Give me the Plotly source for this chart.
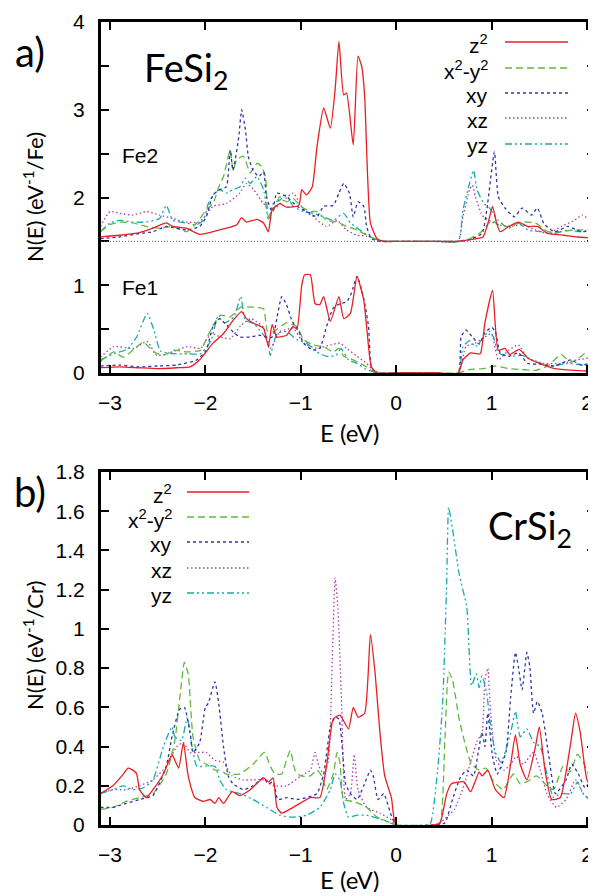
import plotly.graph_objects as go

# ---------------- DATA ----------------
ORBITALS = ["z<sup>2</sup>", "x<sup>2</sup>-y<sup>2</sup>", "xy", "xz", "yz"]
X_TICKS = [-3, -2, -1, 0, 1, 2]
Y_TICKS_A = [0, 0.5, 1, 1.5, 2, 2.5, 3, 3.5, 4]
Y_TICKTEXT_A = ["0", " ", "1", " ", "2", " ", "3", " ", "4"]
Y_TICKS_B = [0, 0.2, 0.4, 0.6, 0.8, 1.0, 1.2, 1.4, 1.6, 1.8]
Y_TICKTEXT_B = ["0", "0.2", "0.4", "0.6", "0.8", "1", "1.2", "1.4", "1.6", "1.8"]
FE2_OFFSET = 1.5

# FeSi2, Fe1 site
E_FE1_Z2 = [-3.1,-2.9,-2.7,-2.5,-2.3,-2.16,-2.06,-1.92,-1.81,-1.71,-1.62,-1.57,-1.5,-1.39,-1.34,-1.3,-1.25,-1.15,-1.08,-1.04,-0.99,-0.96,-0.9,-0.85,-0.8,-0.76,-0.69,-0.6,-0.55,-0.48,-0.41,-0.34,-0.31,-0.26,-0.2,0.0,0.4,0.65,0.70,0.78,0.88,0.93,1.01,1.07,1.14,1.19,1.29,1.38,1.52,1.66,1.87,2.08]
N_FE1_Z2 = [0.06,0.07,0.06,0.05,0.06,0.07,0.15,0.34,0.45,0.6,0.7,0.62,0.57,0.51,0.3,0.55,0.41,0.43,0.53,0.5,1.0,1.12,1.12,0.79,0.78,0.87,0.59,0.87,0.62,0.68,1.1,0.83,0.53,0.07,0,0,0,0,0.15,0.23,0.22,0.57,0.94,0.26,0.28,0.21,0.27,0.17,0.1,0.05,0.03,0.02]
E_FE1_X2Y2 = [-3.1,-2.96,-2.86,-2.75,-2.65,-2.54,-2.44,-2.33,-2.19,-2.05,-1.98,-1.91,-1.84,-1.74,-1.63,-1.49,-1.39,-1.35,-1.29,-1.15,-1.04,-0.97,-0.87,-0.76,-0.66,-0.6,-0.55,-0.45,-0.34,-0.24,-0.15,0.0,0.4,0.65,0.77,0.91,1.04,1.18,1.32,1.46,1.59,1.73,1.83,1.94,2.0,2.08]
N_FE1_X2Y2 = [0.13,0.24,0.18,0.27,0.35,0.24,0.2,0.26,0.24,0.26,0.41,0.56,0.66,0.64,0.75,0.75,0.73,0.48,0.47,0.57,0.53,0.38,0.32,0.3,0.24,0.28,0.19,0.15,0.09,0.02,0,0,0,0,0.04,0.05,0.08,0.05,0.04,0.03,0.08,0.21,0.12,0.19,0.24,0.13]
E_FE1_XY = [-3.1,-2.9,-2.7,-2.5,-2.3,-2.09,-1.99,-1.92,-1.85,-1.78,-1.71,-1.64,-1.53,-1.43,-1.32,-1.29,-1.2,-1.15,-1.09,-1.02,-0.97,-0.87,-0.8,-0.73,-0.66,-0.59,-0.52,-0.47,-0.41,-0.34,-0.29,-0.26,-0.2,0.0,0.4,0.65,0.68,0.73,0.8,0.87,0.93,1.0,1.04,1.09,1.18,1.28,1.38,1.52,1.66,1.83,1.94,2.08]
N_FE1_XY = [0.08,0.09,0.07,0.08,0.09,0.15,0.26,0.53,0.62,0.55,0.47,0.41,0.41,0.43,0.4,0.42,0.87,0.78,0.59,0.47,0.34,0.26,0.28,0.53,0.74,0.79,0.81,0.91,1.1,0.85,0.53,0.07,0,0,0,0,0.41,0.49,0.41,0.33,0.46,0.52,0.47,0.23,0.19,0.23,0.11,0.1,0.08,0.15,0.09,0.13]
E_FE1_XZ = [-3.1,-2.96,-2.75,-2.61,-2.51,-2.4,-2.19,-2.05,-1.94,-1.84,-1.74,-1.63,-1.52,-1.39,-1.32,-1.22,-1.08,-0.97,-0.83,-0.69,-0.59,-0.52,-0.41,-0.31,-0.24,-0.15,0.0,0.4,0.65,0.73,0.83,0.93,1.0,1.07,1.18,1.28,1.38,1.55,1.73,1.9,2.08]
N_FE1_XZ = [0.18,0.3,0.28,0.36,0.2,0.22,0.3,0.28,0.45,0.41,0.39,0.54,0.62,0.52,0.28,0.47,0.51,0.34,0.28,0.32,0.34,0.28,0.19,0.11,0.03,0,0,0,0,0.3,0.34,0.41,0.45,0.15,0.26,0.32,0.17,0.11,0.11,0.15,0.18]
E_FE1_YZ = [-3.1,-2.96,-2.82,-2.72,-2.61,-2.54,-2.47,-2.33,-2.19,-2.05,-1.94,-1.87,-1.8,-1.7,-1.63,-1.58,-1.49,-1.35,-1.32,-1.25,-1.15,-1.04,-0.94,-0.83,-0.73,-0.63,-0.58,-0.5,-0.41,-0.31,-0.2,0.0,0.4,0.65,0.7,0.77,0.83,0.92,0.97,1.02,1.07,1.18,1.32,1.46,1.63,1.8,1.97,2.08]
N_FE1_YZ = [0.15,0.22,0.27,0.41,0.68,0.49,0.25,0.22,0.22,0.22,0.37,0.64,0.57,0.64,0.87,0.6,0.56,0.37,0.2,0.45,0.47,0.38,0.34,0.24,0.19,0.2,0.28,0.15,0.11,0.04,0,0,0,0,0.3,0.37,0.3,0.41,0.48,0.41,0.23,0.19,0.2,0.13,0.08,0.11,0.09,0.11]

# FeSi2, Fe2 site (plotted shifted up by FE2_OFFSET)
E_FE2_Z2 = [-3.1,-2.9,-2.69,-2.55,-2.41,-2.34,-2.2,-2.06,-1.92,-1.78,-1.67,-1.62,-1.57,-1.46,-1.39,-1.34,-1.3,-1.22,-1.15,-1.02,-0.99,-0.94,-0.88,-0.83,-0.76,-0.69,-0.64,-0.6,-0.55,-0.52,-0.45,-0.4,-0.36,-0.33,-0.27,-0.2,-0.13,0.0,0.4,0.65,0.77,0.91,0.97,1.01,1.05,1.09,1.18,1.28,1.38,1.48,1.59,1.76,1.9,2.08]
N_FE2_Z2 = [0.05,0.07,0.1,0.15,0.21,0.17,0.15,0.08,0.11,0.15,0.19,0.27,0.22,0.25,0.21,0.11,0.36,0.43,0.39,0.41,0.59,0.53,0.62,1.08,1.52,1.29,1.73,2.28,1.67,1.69,1.1,2.11,1.99,1.65,0.21,0.03,0,0,0,0,0.02,0.05,0.24,0.4,0.22,0.11,0.17,0.22,0.17,0.17,0.09,0.07,0.05,0.04]
E_FE2_X2Y2 = [-3.1,-3.0,-2.9,-2.76,-2.62,-2.48,-2.34,-2.2,-2.09,-1.99,-1.92,-1.86,-1.81,-1.74,-1.71,-1.67,-1.6,-1.53,-1.46,-1.41,-1.37,-1.34,-1.3,-1.22,-1.15,-1.08,-1.0,-0.9,-0.83,-0.73,-0.62,-0.52,-0.41,-0.31,-0.2,-0.1,0.0,0.4,0.65,0.77,0.87,0.93,1.0,1.07,1.18,1.32,1.46,1.59,1.73,1.87,2.08]
N_FE2_X2Y2 = [0.11,0.19,0.22,0.21,0.17,0.15,0.17,0.11,0.21,0.36,0.43,0.62,0.74,1.04,0.81,0.93,0.97,0.78,0.89,0.85,0.74,0.28,0.32,0.51,0.45,0.49,0.4,0.34,0.34,0.24,0.22,0.17,0.13,0.07,0.02,0,0,0,0,0.03,0.09,0.15,0.24,0.19,0.17,0.22,0.21,0.11,0.11,0.13,0.13]
E_FE2_XY = [-3.1,-2.9,-2.69,-2.55,-2.41,-2.2,-2.06,-1.99,-1.92,-1.85,-1.78,-1.74,-1.71,-1.65,-1.62,-1.58,-1.55,-1.5,-1.44,-1.39,-1.36,-1.3,-1.25,-1.15,-1.04,-0.94,-0.83,-0.76,-0.66,-0.6,-0.55,-0.49,-0.45,-0.4,-0.34,-0.31,-0.26,-0.17,0.0,0.4,0.65,0.77,0.9,0.95,1.03,1.07,1.14,1.24,1.32,1.42,1.48,1.55,1.66,1.8,1.94,2.08]
N_FE2_XY = [0.03,0.05,0.09,0.11,0.17,0.13,0.17,0.28,0.53,0.59,0.62,1.04,0.81,1.19,1.5,1.27,0.97,0.81,0.74,0.79,0.51,0.34,0.55,0.51,0.4,0.34,0.28,0.4,0.41,0.55,0.66,0.55,0.28,0.45,0.4,0.17,0.03,0,0,0,0,0.02,0.09,0.36,1.02,0.51,0.38,0.28,0.38,0.3,0.38,0.2,0.11,0.17,0.11,0.13]
E_FE2_XZ = [-3.1,-3.0,-2.9,-2.76,-2.62,-2.48,-2.34,-2.2,-2.06,-1.92,-1.78,-1.64,-1.57,-1.5,-1.39,-1.29,-1.18,-1.08,-0.97,-0.87,-0.73,-0.62,-0.52,-0.41,-0.31,-0.2,-0.1,0.0,0.4,0.65,0.7,0.77,0.8,0.83,0.9,0.97,1.07,1.18,1.32,1.46,1.59,1.73,1.87,1.95,2.08]
N_FE2_XZ = [0.17,0.34,0.32,0.3,0.34,0.3,0.26,0.22,0.22,0.4,0.43,0.55,0.66,0.6,0.43,0.36,0.47,0.55,0.36,0.28,0.17,0.24,0.13,0.07,0.06,0.02,0,0,0,0,0.28,0.59,0.64,0.51,0.3,0.24,0.19,0.17,0.19,0.13,0.09,0.17,0.24,0.3,0.2]
E_FE2_YZ = [-3.1,-3.0,-2.9,-2.76,-2.62,-2.48,-2.41,-2.34,-2.2,-2.09,-2.02,-1.97,-1.92,-1.85,-1.78,-1.71,-1.64,-1.58,-1.53,-1.46,-1.39,-1.34,-1.29,-1.22,-1.15,-1.08,-0.97,-0.87,-0.76,-0.66,-0.55,-0.48,-0.38,-0.27,-0.17,-0.1,0.0,0.4,0.65,0.7,0.75,0.81,0.85,0.92,0.97,1.07,1.18,1.28,1.38,1.52,1.66,1.8,1.94,2.08]
N_FE2_YZ = [0.11,0.21,0.24,0.22,0.22,0.26,0.41,0.24,0.21,0.19,0.24,0.43,0.53,0.59,0.55,0.59,0.62,0.72,0.66,0.74,0.59,0.24,0.43,0.47,0.53,0.4,0.34,0.32,0.28,0.24,0.32,0.21,0.13,0.05,0.01,0,0,0,0,0.36,0.58,0.81,0.58,0.43,0.39,0.24,0.15,0.21,0.13,0.11,0.09,0.13,0.11,0.15]

# CrSi2
E_CR_Z2 = [-3.1,-2.97,-2.86,-2.81,-2.76,-2.72,-2.69,-2.62,-2.55,-2.44,-2.35,-2.32,-2.28,-2.23,-2.18,-2.11,-2.02,-1.95,-1.9,-1.86,-1.81,-1.72,-1.64,-1.53,-1.39,-1.34,-1.29,-1.25,-1.2,-1.08,-0.9,-0.8,-0.73,-0.66,-0.59,-0.5,-0.45,-0.4,-0.33,-0.27,-0.22,-0.17,-0.12,-0.05,0.0,0.4,0.46,0.53,0.58,0.71,0.78,0.87,0.9,0.96,1.04,1.13,1.2,1.25,1.3,1.37,1.46,1.5,1.56,1.63,1.72,1.83,1.88,1.93,2.0,2.08]
N_CR_Z2 = [0.16,0.2,0.26,0.29,0.28,0.26,0.18,0.14,0.18,0.26,0.36,0.33,0.29,0.42,0.25,0.14,0.12,0.13,0.11,0.14,0.11,0.17,0.15,0.18,0.24,0.22,0.24,0.09,0.06,0.09,0.14,0.14,0.3,0.54,0.56,0.49,0.6,0.55,0.57,0.97,0.77,0.47,0.25,0.14,0.0,0,0.01,0.16,0.21,0.22,0.17,0.27,0.25,0.28,0.18,0.14,0.31,0.46,0.31,0.23,0.4,0.5,0.28,0.13,0.14,0.42,0.57,0.47,0.23,0.17]
E_CR_X2Y2 = [-3.1,-2.97,-2.83,-2.69,-2.55,-2.41,-2.32,-2.27,-2.22,-2.18,-2.13,-2.06,-1.99,-1.9,-1.85,-1.78,-1.64,-1.5,-1.38,-1.32,-1.27,-1.2,-1.15,-1.11,-1.06,-1.0,-0.9,-0.83,-0.78,-0.73,-0.66,-0.62,-0.59,-0.55,-0.45,-0.31,-0.2,-0.1,0.0,0.4,0.46,0.51,0.55,0.59,0.66,0.73,0.79,0.87,0.94,1.01,1.12,1.23,1.3,1.37,1.47,1.58,1.65,1.75,1.82,1.9,1.96,2.03,2.08]
N_CR_X2Y2 = [0.08,0.09,0.12,0.14,0.16,0.26,0.43,0.64,0.83,0.77,0.45,0.33,0.31,0.28,0.28,0.26,0.26,0.31,0.37,0.3,0.26,0.26,0.33,0.38,0.28,0.25,0.25,0.28,0.25,0.18,0.26,0.37,0.32,0.13,0.12,0.09,0.04,0.02,0.0,0,0.01,0.43,0.78,0.74,0.54,0.4,0.31,0.28,0.29,0.23,0.18,0.26,0.21,0.22,0.25,0.2,0.18,0.3,0.27,0.36,0.32,0.25,0.28]
E_CR_XY = [-3.1,-2.97,-2.83,-2.69,-2.55,-2.41,-2.35,-2.27,-2.22,-2.16,-2.13,-2.06,-2.0,-1.97,-1.9,-1.86,-1.81,-1.76,-1.71,-1.6,-1.5,-1.39,-1.34,-1.29,-1.24,-1.15,-1.04,-0.94,-0.83,-0.76,-0.69,-0.64,-0.6,-0.53,-0.48,-0.41,-0.34,-0.27,-0.24,-0.19,-0.13,-0.06,0.0,0.4,0.51,0.59,0.67,0.74,0.81,0.86,0.9,0.93,0.96,1.01,1.06,1.15,1.2,1.25,1.28,1.32,1.37,1.4,1.44,1.48,1.53,1.6,1.67,1.78,1.84,1.91,1.98,2.08]
N_CR_XY = [0.09,0.09,0.11,0.13,0.15,0.3,0.45,0.59,0.6,0.47,0.37,0.42,0.6,0.62,0.73,0.62,0.4,0.25,0.21,0.18,0.2,0.24,0.21,0.22,0.13,0.14,0.13,0.14,0.16,0.26,0.5,0.55,0.54,0.21,0.16,0.13,0.2,0.28,0.25,0.13,0.16,0.06,0.0,0,0.01,0.13,0.24,0.28,0.25,0.37,0.47,0.4,0.57,0.35,0.26,0.37,0.65,0.88,0.81,0.69,0.88,0.81,0.57,0.63,0.57,0.35,0.16,0.23,0.31,0.26,0.19,0.26]
E_CR_XZ = [-3.1,-2.97,-2.83,-2.69,-2.55,-2.41,-2.3,-2.23,-2.16,-2.06,-1.99,-1.9,-1.81,-1.72,-1.6,-1.5,-1.39,-1.29,-1.15,-1.0,-0.9,-0.85,-0.81,-0.76,-0.71,-0.67,-0.64,-0.61,-0.57,-0.53,-0.48,-0.44,-0.4,-0.31,-0.17,-0.06,0.0,0.4,0.45,0.53,0.61,0.71,0.78,0.85,0.9,0.93,0.96,0.99,1.05,1.13,1.2,1.26,1.33,1.44,1.51,1.58,1.68,1.78,1.88,1.96,2.03,2.08]
N_CR_XZ = [0.16,0.18,0.18,0.2,0.23,0.3,0.4,0.42,0.37,0.37,0.37,0.33,0.32,0.25,0.23,0.23,0.23,0.2,0.2,0.25,0.28,0.37,0.3,0.26,0.33,0.84,1.26,1.1,0.59,0.13,0.16,0.36,0.18,0.09,0.06,0.03,0.0,0,0.01,0.04,0.08,0.2,0.32,0.43,0.47,0.74,0.8,0.57,0.33,0.28,0.31,0.35,0.31,0.37,0.28,0.16,0.09,0.13,0.23,0.16,0.13,0.1]
E_CR_YZ = [-3.1,-2.97,-2.86,-2.76,-2.65,-2.55,-2.44,-2.35,-2.32,-2.25,-2.19,-2.14,-2.09,-2.0,-1.9,-1.85,-1.78,-1.64,-1.5,-1.36,-1.22,-1.08,-0.94,-0.8,-0.69,-0.64,-0.59,-0.55,-0.5,-0.41,-0.31,-0.17,-0.06,0.0,0.3,0.36,0.44,0.49,0.53,0.55,0.59,0.66,0.74,0.79,0.84,0.87,0.9,0.95,0.98,1.04,1.1,1.2,1.25,1.3,1.37,1.44,1.51,1.58,1.65,1.72,1.83,1.9,1.96,2.03,2.08]
N_CR_YZ = [0.16,0.18,0.2,0.18,0.19,0.23,0.4,0.5,0.45,0.43,0.55,0.4,0.3,0.3,0.3,0.23,0.18,0.16,0.13,0.09,0.05,0.04,0.05,0.09,0.18,0.26,0.23,0.11,0.04,0.05,0.05,0.03,0.01,0.0,0,0.01,0.31,0.65,1.25,1.62,1.51,1.28,1.11,0.71,0.77,0.7,0.76,0.67,0.54,0.37,0.32,0.47,0.58,0.45,0.49,0.42,0.4,0.26,0.14,0.16,0.16,0.22,0.16,0.13,0.15]

# ---------------- STYLE ----------------
COLORS = ["rgb(235,30,35)", "rgb(95,185,60)", "rgb(45,55,165)", "rgb(175,60,175)", "rgb(25,170,175)"]
DASHES = ["solid", "7px,4px", "3px,3px", "1.5px,2.5px", "7px,3px,2px,3px,2px,3px"]
LW = 1.3
PAGE_MARGIN = 8          # default <body> margin of the written page
W, H = 596 - PAGE_MARGIN, 896 - PAGE_MARGIN
TXT = "Liberation Sans"
CAL = "Lato"


def px(x):
    # window pixel -> paper fraction
    return (x - PAGE_MARGIN) / W


def py(y):
    return 1 - (y - PAGE_MARGIN) / H


fe1 = [(E_FE1_Z2, N_FE1_Z2), (E_FE1_X2Y2, N_FE1_X2Y2), (E_FE1_XY, N_FE1_XY), (E_FE1_XZ, N_FE1_XZ), (E_FE1_YZ, N_FE1_YZ)]
fe2 = [(E_FE2_Z2, N_FE2_Z2), (E_FE2_X2Y2, N_FE2_X2Y2), (E_FE2_XY, N_FE2_XY), (E_FE2_XZ, N_FE2_XZ), (E_FE2_YZ, N_FE2_YZ)]
cr = [(E_CR_Z2, N_CR_Z2), (E_CR_X2Y2, N_CR_X2Y2), (E_CR_XY, N_CR_XY), (E_CR_XZ, N_CR_XZ), (E_CR_YZ, N_CR_YZ)]
for grp in (fe1, fe2, cr):
    for i, (e, n) in enumerate(grp):
        assert len(e) == len(n), (i, len(e), len(n))

fig = go.Figure()
draw_order = [3, 4, 1, 2, 0]


def line_style(i):
    return dict(color=COLORS[i], dash=DASHES[i], width=LW, shape="spline", smoothing=0.5)


for i in draw_order:
    e, n = fe1[i]
    fig.add_trace(go.Scatter(x=e, y=n, mode="lines", xaxis="x", yaxis="y", line=line_style(i), name=ORBITALS[i]))
for i in draw_order:
    e, n = fe2[i]
    fig.add_trace(go.Scatter(x=e, y=[v + FE2_OFFSET for v in n], mode="lines", xaxis="x", yaxis="y",
                             line=line_style(i), name=ORBITALS[i]))
for i in draw_order:
    e, n = cr[i]
    fig.add_trace(go.Scatter(x=e, y=n, mode="lines", xaxis="x2", yaxis="y2", line=line_style(i), name=ORBITALS[i]))

XR = [-3.094, 2.084]
common_axis = dict(showline=True, linewidth=3, linecolor="black", mirror="allticks", ticks="inside",
                   ticklen=8, tickwidth=2, tickcolor="black", showgrid=False, zeroline=False,
                   automargin=False, tickfont=dict(family=TXT, size=21, color="black"))
fig.update_layout(
    template="none",
    width=W, height=H, margin=dict(l=0, r=0, t=0, b=0, pad=0), autosize=False,
    paper_bgcolor="white", plot_bgcolor="white", showlegend=False,
    xaxis=dict(domain=[px(101), px(595)], range=XR, anchor="y", tickvals=X_TICKS, ticklabelstandoff=9, **common_axis),
    yaxis=dict(domain=[py(373), py(22)], range=[0, 4], anchor="x", tickvals=Y_TICKS_A,
               ticktext=Y_TICKTEXT_A, ticklabelstandoff=9, **common_axis),
    xaxis2=dict(domain=[px(101), px(595)], range=XR, anchor="y2", tickvals=X_TICKS, ticklabelstandoff=9, **common_axis),
    yaxis2=dict(domain=[py(825), py(472)], range=[0, 1.8], anchor="x2", tickvals=Y_TICKS_B,
                ticktext=Y_TICKTEXT_B, ticklabelstandoff=9, **common_axis),
)

shapes = [dict(type="line", xref="x domain", yref="y", x0=0, x1=1, y0=FE2_OFFSET, y1=FE2_OFFSET,
               line=dict(color="rgb(90,90,90)", width=1, dash="1px,2px"))]
annotations = []

# legends (text to the left of the line sample)
legend_a = dict(text_x=490, x0=505, x1=568, rows=[42, 68, 93, 118, 144])
legend_b = dict(text_x=174, x0=187, x1=249, rows=[492, 517, 542, 568, 593])
for lg in (legend_a, legend_b):
    for i, yrow in enumerate(lg["rows"]):
        shapes.append(dict(type="line", xref="paper", yref="paper", x0=px(lg["x0"]), x1=px(lg["x1"]),
                           y0=py(yrow), y1=py(yrow),
                           line=dict(color=COLORS[i], dash=DASHES[i], width=LW + 0.3)))
        annotations.append(dict(xref="paper", yref="paper", x=px(lg["text_x"]), y=py(yrow + 2),
                                xanchor="right", yanchor="middle", showarrow=False, text=ORBITALS[i],
                                font=dict(family=TXT, size=21, color="black")))

texts = [
    ("a)", 30, 52, 40, CAL),
    ("b)", 30, 492, 40, CAL),
    ("FeSi<sub>2</sub>", 186, 70, 38, CAL),
    ("CrSi<sub>2</sub>", 530, 528, 38, CAL),
    ("Fe2", 140, 155, 21, TXT),
    ("Fe1", 140, 287, 21, TXT),
    ("E (eV)", 349, 432, 24, CAL),
    ("E (eV)", 349, 879, 24, CAL),
]
for t, x, y, s, f in texts:
    annotations.append(dict(xref="paper", yref="paper", x=px(x), y=py(y), xanchor="center", yanchor="middle",
                            showarrow=False, text=t, font=dict(family=f, size=s, color="black")))
for t, y in [("N(E) (eV<sup>-1</sup>/Fe)", 197), ("N(E) (eV<sup>-1</sup>/Cr)", 646)]:
    annotations.append(dict(xref="paper", yref="paper", x=px(33), y=py(y), xanchor="center", yanchor="middle",
                            showarrow=False, text=t, textangle=-90,
                            font=dict(family=CAL, size=22, color="black")))

fig.update_layout(shapes=shapes, annotations=annotations)
fig.write_html("out.html")
